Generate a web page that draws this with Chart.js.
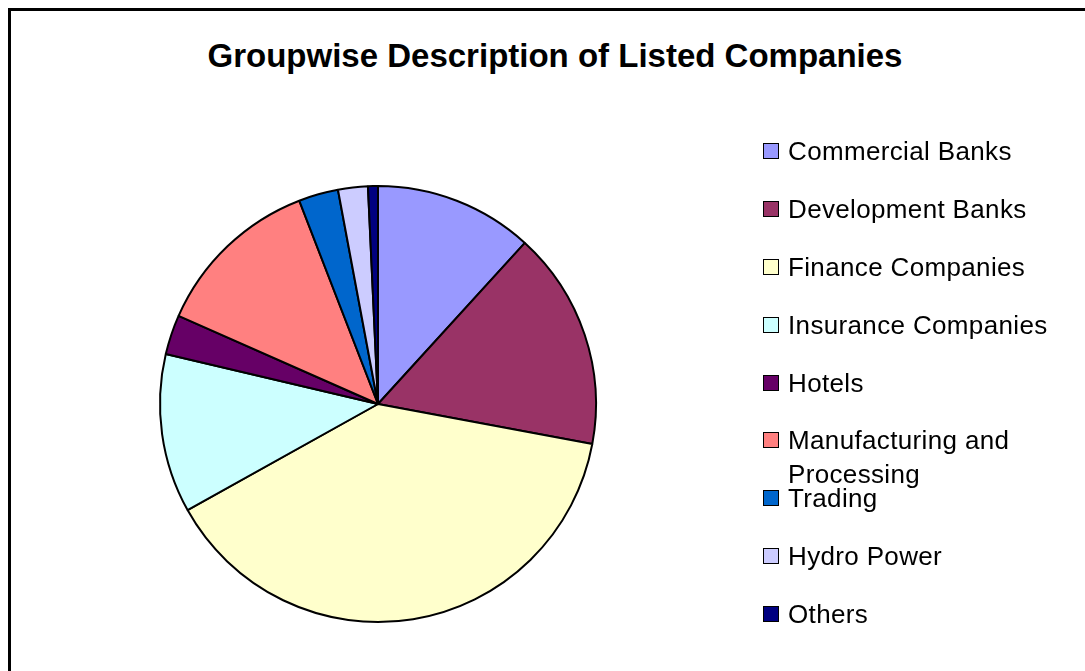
<!DOCTYPE html>
<html>
<head>
<meta charset="utf-8">
<script src="https://cdn.jsdelivr.net/npm/chart.js@4.4.1/dist/chart.umd.min.js"></script>
<style>
    html, body { margin: 0; padding: 0; background: #fff; overflow: hidden; }
    #wrap { position: relative; width: 1085px; height: 671px; }
    #frame { position: absolute; left: 8px; top: 8px; width: 1200px; height: 800px; border: 3px solid #000; box-sizing: border-box; }
    #title { position: absolute; left: 0; top: 37px; width: 1110px; text-align: center; font: bold 33px "Liberation Sans", Arial, sans-serif; color: #000; white-space: nowrap; }
    #legend { position: absolute; left: 0; top: 0; }
    .item { position: absolute; left: 763px; width: 310px; font: 26px/34px "Liberation Sans", Arial, sans-serif; letter-spacing: 0.35px; color: #000; }
    .item .box { position: absolute; left: 0; top: 9px; width: 16px; height: 16px; border: 1.5px solid #000; box-sizing: border-box; }
    .item .txt { position: absolute; left: 25px; top: 0; width: 275px; }
    canvas { position: absolute; left: 0; top: 0; }
</style>
</head>
<body>
<div id="wrap">
    <div id="frame"></div>
    <div id="title"></div>
    <canvas id="pieChart" width="1085" height="671"></canvas>
    <div id="legend"></div>
</div>
<script>
// Dados do gráfico
const chartTitle = 'Groupwise Description of Listed Companies';
const categories = ['Commercial Banks', 'Development Banks', 'Finance Companies', 'Insurance Companies',
    'Hotels', 'Manufacturing and Processing', 'Trading', 'Hydro Power', 'Others'];
const companyCounts = [16, 22, 53, 16, 4, 17, 4, 3, 1];
const sliceColors = ['#9999FF', '#993366', '#FFFFCC', '#CCFFFF', '#660066', '#FF8080', '#0066CC', '#CCCCFF', '#000080'];

document.getElementById('title').textContent = chartTitle;

const ctx = document.getElementById('pieChart');
const chart = new Chart(ctx, {
    type: 'pie',
    data: {
        labels: categories,
        datasets: [{
            data: companyCounts,
            backgroundColor: sliceColors,
            borderColor: '#000',
            borderWidth: 2
        }]
    },
    options: {
        responsive: false,
        animation: false,
        layout: { padding: { left: 159, top: 185, right: 488, bottom: 48 } },
        plugins: {
            legend: { display: false },
            tooltip: { enabled: false }
        }
    }
});

// Legenda em HTML (quebra de linha igual ao original)
const legendTops = [143, 201, 259, 317, 375, 432, 490, 548, 606];
const legend = document.getElementById('legend');
chart.data.labels.forEach((label, i) => {
    const item = document.createElement('div');
    item.className = 'item';
    item.style.top = (legendTops[i] - 9) + 'px';
    const box = document.createElement('span');
    box.className = 'box';
    box.style.background = chart.data.datasets[0].backgroundColor[i];
    const txt = document.createElement('span');
    txt.className = 'txt';
    txt.textContent = label;
    item.appendChild(box);
    item.appendChild(txt);
    legend.appendChild(item);
});
</script>
</body>
</html>
